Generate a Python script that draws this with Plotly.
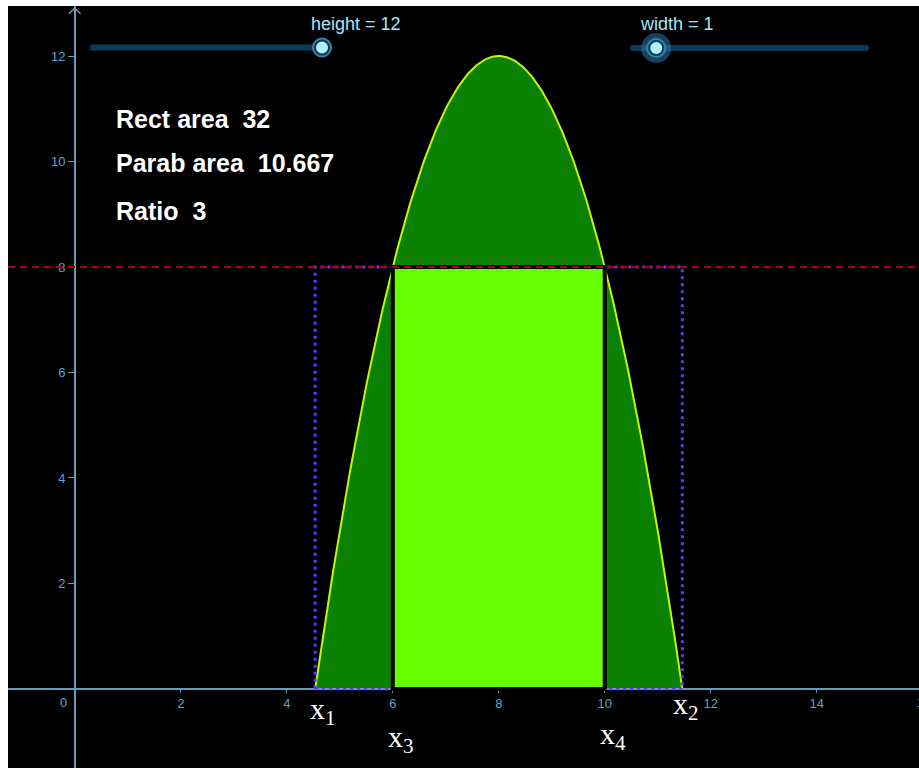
import numpy as np
import plotly.graph_objects as go

# ---- data ----
height_value = 12          # parabola apex height (slider "height")
width_value = 1            # slider "width"
vertex_x = 8               # apex x
level_y = 8                # horizontal cut level
curvature = 1              # y = height - curvature*(x - vertex_x)^2
inner_x = [6, 10]          # x3, x4 (intersection with y = level)
x_ticks = [2, 4, 6, 8, 10, 12, 14]
y_ticks = [2, 4, 6, 8, 10, 12]
labels_text = ["Rect area", "Parab area", "Ratio"]
slider_names = ["height", "width"]
slider_values = [height_value, width_value]
slider_mins = [0, 0]
slider_maxs = [12, 10]

# derived values
half = np.sqrt(height_value / curvature)
x1, x2 = vertex_x - half, vertex_x + half
x3, x4 = inner_x
rect_area = (x4 - x3) * level_y
parab_area = (x4 - x3) * (height_value - level_y) - curvature * ((x4 - vertex_x) ** 3 - (x3 - vertex_x) ** 3) / 3
ratio = rect_area / parab_area
values_text = ["%g" % round(rect_area, 3), "%g" % round(parab_area, 3), "%g" % round(ratio, 3)]

xs = np.linspace(x1, x2, 300)
ys = height_value - curvature * (xs - vertex_x) ** 2
ys = np.clip(ys, 0, None)

XMIN, XMAX, YMIN, YMAX = -1.26, 15.93, -1.498, 12.948
AXIS_COL = "#6b9ab8"
TICK_COL = "#5aa5d0"

fig = go.Figure()
fig.add_trace(go.Scatter(x=xs, y=ys, mode="lines", fill="tozeroy",
                         fillcolor="#0a8200", line=dict(color="#c6f500", width=2),
                         hoverinfo="skip", showlegend=False))

shapes = []
# blue dotted outer rectangle
shapes.append(dict(type="rect", xref="x", yref="y", x0=x1, x1=x2, y0=0, y1=level_y,
                   line=dict(color="#6236ff", width=3, dash="3px,4px"), fillcolor="rgba(0,0,0,0)"))
# bright inner rectangle
shapes.append(dict(type="rect", xref="x", yref="y", x0=x3, x1=x4, y0=0, y1=level_y,
                   line=dict(color="#000000", width=4), fillcolor="#66ff00"))
# red dashed level line
shapes.append(dict(type="line", xref="paper", yref="y", x0=0, x1=1, y0=level_y, y1=level_y,
                   line=dict(color="#a8001e", width=2, dash="7px,5px")))
# y-axis arrow
shapes.append(dict(type="path", xref="x", yref="y",
                   path="M -0.11 12.80 L 0 12.91 L 0.11 12.80",
                   line=dict(color=AXIS_COL, width=1.5)))

# sliders (paper coords)
slider_geo = [  # x start, x end, y, label center x
    (0.0933, 0.3447, 0.9455, 0.382),
    (0.686, 0.9418, 0.9449, 0.7344),
]
annotations = []
for i, (xa, xb, yy, lx) in enumerate(slider_geo):
    shapes.append(dict(type="line", xref="paper", yref="paper", x0=xa, x1=xb, y0=yy, y1=yy,
                       line=dict(color="#0b3b5b", width=6)))
    for ex in (xa, xb):
        shapes.append(dict(type="circle", xref="paper", yref="paper", xsizemode="pixel", ysizemode="pixel",
                           xanchor=ex, yanchor=yy, x0=-3, x1=3, y0=-3, y1=3,
                           fillcolor="#0b3b5b", line=dict(width=0)))
    frac = (slider_values[i] - slider_mins[i]) / (slider_maxs[i] - slider_mins[i])
    kx = xa + frac * (xb - xa)
    if i == 1:
        shapes.append(dict(type="circle", xref="paper", yref="paper", xsizemode="pixel", ysizemode="pixel",
                           xanchor=kx, yanchor=yy, x0=-15, x1=15, y0=-15, y1=15,
                           fillcolor="rgba(40,120,170,0.55)", line=dict(width=0)))
    shapes.append(dict(type="circle", xref="paper", yref="paper", xsizemode="pixel", ysizemode="pixel",
                       xanchor=kx, yanchor=yy, x0=-9, x1=9, y0=-9, y1=9,
                       fillcolor="#0d3a55", line=dict(color="#3b80a8", width=2)))
    shapes.append(dict(type="circle", xref="paper", yref="paper", xsizemode="pixel", ysizemode="pixel",
                       xanchor=kx, yanchor=yy, x0=-6, x1=6, y0=-6, y1=6,
                       fillcolor="#b2f2ff", line=dict(width=0)))
    annotations.append(dict(xref="paper", yref="paper", x=lx, y=0.9764, xanchor="center", yanchor="middle",
                            text="%s = %g" % (slider_names[i], slider_values[i]), showarrow=False,
                            font=dict(family="Liberation Sans, Arial", size=18, color="#a6e6fb")))

# info texts
text_rows_y = [10.81, 9.97, 9.06]
for lab, val, yy in zip(labels_text, values_text, text_rows_y):
    annotations.append(dict(xref="x", yref="y", x=0.74, y=yy, xanchor="left", yanchor="middle",
                            text="<b>%s\u00a0 %s</b>" % (lab, val), showarrow=False,
                            font=dict(family="Liberation Sans, Arial", size=25, color="#ffffff")))

# point labels
pt_x = [x1, x2, x3, x4]
pt_sub = ["1", "2", "3", "4"]
pt_shift = [(-7, -1), (-11, 4), (-7, -29), (-7, -26)]
for px, sub, (dx, dy) in zip(pt_x, pt_sub, pt_shift):
    annotations.append(dict(xref="x", yref="y", x=px, y=0, xanchor="left", yanchor="top",
                            xshift=dx, yshift=dy, text="x<sub>%s</sub>" % sub, showarrow=False,
                            font=dict(family="Liberation Serif, Times New Roman", size=30, color="#ffffff")))

# origin label and the clipped "16" tick label at the right edge
annotations.append(dict(xref="x", yref="y", x=-0.22, y=-0.25, text="0", showarrow=False,
                        font=dict(family="Liberation Sans, Arial", size=13, color=TICK_COL)))
annotations.append(dict(xref="paper", yref="y", x=1, xshift=5, xanchor="center", y=-0.25, text="16",
                        showarrow=False,
                        font=dict(family="Liberation Sans, Arial", size=13, color=TICK_COL)))

fig.update_layout(
    width=911, height=762,
    margin=dict(l=0, r=0, t=0, b=0, pad=0),
    paper_bgcolor="#ffffff", plot_bgcolor="#000000",
    shapes=shapes, annotations=annotations, showlegend=False,
    xaxis=dict(range=[XMIN, XMAX], showgrid=False, zeroline=False, showline=True,
               linecolor=AXIS_COL, linewidth=1.5, anchor="free",
               position=(0 - YMIN) / (YMAX - YMIN), side="bottom",
               tickvals=x_ticks, ticks="outside", ticklen=3, tickcolor=AXIS_COL,
               tickfont=dict(family="Liberation Sans, Arial", size=13, color=TICK_COL),
               fixedrange=True, automargin=False),
    yaxis=dict(range=[YMIN, YMAX], showgrid=False, zeroline=False, showline=True,
               linecolor=AXIS_COL, linewidth=1.5, anchor="free",
               position=(0 - XMIN) / (XMAX - XMIN), side="left",
               tickvals=y_ticks, ticks="outside", ticklen=6, tickcolor=AXIS_COL,
               tickfont=dict(family="Liberation Sans, Arial", size=13, color=TICK_COL),
               fixedrange=True, automargin=False),
)

fig.write_html("out.html",
               post_script="document.body.style.margin='6px 0 0 8px';"
                           "document.body.style.overflow='hidden';")
